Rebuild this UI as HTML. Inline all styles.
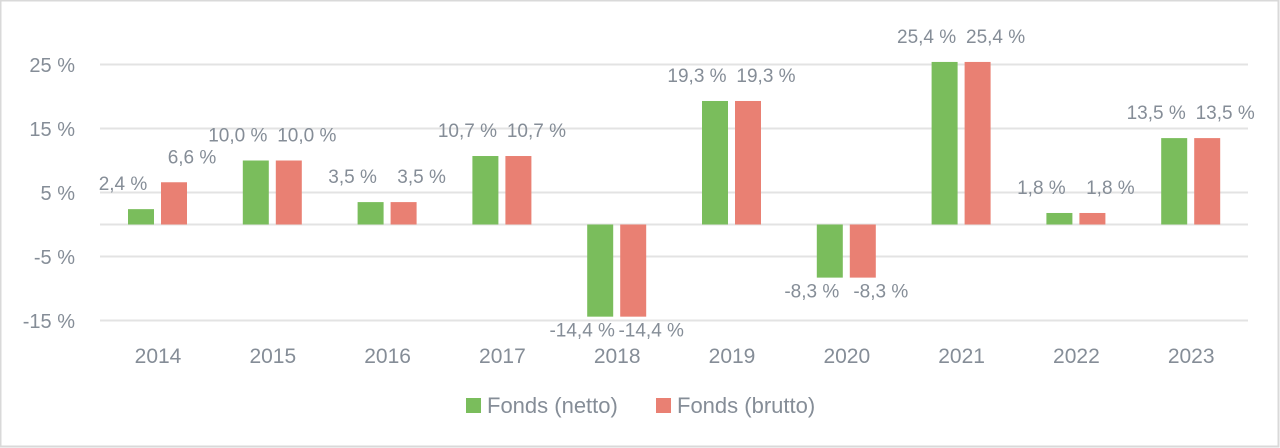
<!DOCTYPE html>
<html><head><meta charset="utf-8"><style>
html,body{margin:0;padding:0;background:#fff}
svg{display:block}
text{font-family:"Liberation Sans",sans-serif;fill:#858d97}
</style></head><body>
<svg width="1280" height="448" viewBox="0 0 1280 448">
<rect x="0.5" y="0.5" width="1278" height="446" fill="#fff" stroke="#d9d9d9" stroke-width="2"/>
<g stroke="#e3e3e3" stroke-width="2">
<line x1="100" x2="1248" y1="64.5" y2="64.5"/>
<line x1="100" x2="1248" y1="128.5" y2="128.5"/>
<line x1="100" x2="1248" y1="192.5" y2="192.5"/>
<line x1="100" x2="1248" y1="224.5" y2="224.5"/>
<line x1="100" x2="1248" y1="256.5" y2="256.5"/>
<line x1="100" x2="1248" y1="320.5" y2="320.5"/>
</g>
<g font-size="20" text-anchor="end">
<text x="75" y="72">25 %</text>
<text x="75" y="136">15 %</text>
<text x="75" y="200">5 %</text>
<text x="75" y="264">-5 %</text>
<text x="75" y="328">-15 %</text>
</g>
<g id="bars"></g>
<g font-size="21" text-anchor="middle" id="years"></g>
<g font-size="19" text-anchor="middle" id="labels"></g>
<rect x="466" y="398" width="15" height="15" fill="#7abd5c"/>
<text x="487" y="413" font-size="22">Fonds (netto)</text>
<rect x="656" y="398" width="15" height="15" fill="#e98073"/>
<text x="677" y="413" font-size="22">Fonds (brutto)</text>
</svg>
<script>
var g=[2.4,10.0,3.5,10.7,-14.4,19.3,-8.3,25.4,1.8,13.5],r=[6.6,10.0,3.5,10.7,-14.4,19.3,-8.3,25.4,1.8,13.5];
var ns="http://www.w3.org/2000/svg",Z=224.5,S=6.4;
function el(t,a,p,txt){var e=document.createElementNS(ns,t);for(var k in a)e.setAttribute(k,a[k]);if(txt)e.textContent=txt;document.getElementById(p).appendChild(e);}
function f(v){return v.toFixed(1).replace('.',',')+' %';}
for(var i=0;i<10;i++){var c=158+i*114.8;
[[g[i],c-30,'#7abd5c',-18],[r[i],c+3,'#e98073',18]].forEach(function(b){var v=b[0],h=Math.abs(v)*S,y=v>=0?Z-h:Z;
el('rect',{x:b[1],y:y,width:26,height:h,fill:b[2]},'bars');
var ly=v>=0?Z-h-19:Z+h+20;
el('text',{x:b[1]+13+b[3],y:ly},'labels',f(v));});
el('text',{x:c,y:363},'years',String(2014+i));}
</script>
</body></html>
